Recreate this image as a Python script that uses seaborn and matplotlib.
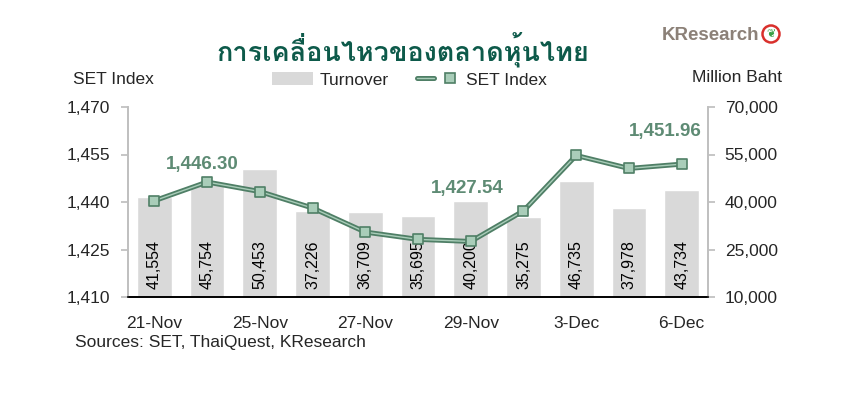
import numpy as np
import pandas as pd
import seaborn as sns
import matplotlib
matplotlib.use("Agg")
import matplotlib.pyplot as plt
from matplotlib import font_manager as fm
from matplotlib.patches import Patch, Circle
from matplotlib.lines import Line2D
from matplotlib.legend_handler import HandlerTuple
import matplotlib.patheffects as pe

# ---------------- data ----------------
dates = ["21-Nov", "22-Nov", "25-Nov", "26-Nov", "27-Nov", "28-Nov",
         "29-Nov", "2-Dec", "3-Dec", "4-Dec", "6-Dec"]
set_index = [1440.4, 1446.30, 1443.3, 1438.1, 1430.5, 1428.2,
             1427.54, 1437.2, 1454.7, 1450.6, 1451.96]
turnover = [41554, 45754, 50453, 37226, 36709, 35695,
            40200, 35275, 46735, 37978, 43734]
shown_labels = ["21-Nov", "25-Nov", "27-Nov", "29-Nov", "3-Dec", "6-Dec"]
left_ticks = [1410, 1425, 1440, 1455, 1470]
right_ticks = [10000, 25000, 40000, 55000, 70000]
highlight = {"22-Nov": "1,446.30", "29-Nov": "1,427.54", "6-Dec": "1,451.96"}
title = "การเคลื่อนไหวของตลาดหุ้นไทย"

df = pd.DataFrame({"date": dates, "set": set_index, "turnover": turnover})
df["pos"] = np.arange(len(df))

sns.set_theme(style="white")
plt.rcParams["font.family"] = ["Liberation Sans", "DejaVu Sans"]


def find_thai_font():
    best = None
    for f in fm.fontManager.ttflist:
        try:
            cmap = fm.get_font(f.fname).get_charmap()
        except Exception:
            continue
        if 0x0E01 in cmap and 0x0E40 in cmap and 0x0E2B in cmap:
            w = f.weight if isinstance(f.weight, int) else 400
            score = (1 if w >= 600 else 0, -abs(w - 700))
            if best is None or score > best[0]:
                best = (score, f)
    return best[1] if best else None


thai = find_thai_font()

fig = plt.figure(figsize=(8.54, 3.97), dpi=100)
ax = fig.add_axes([128 / 854, 1 - 297 / 397, 580 / 854, 190 / 397])
ax2 = ax.twinx()

bar_c = "#d9d9d9"
dark_g = "#4f7f66"
light_g = "#a9cdb9"
lab_g = "#5e8b74"

sns.barplot(data=df, x="pos", y="turnover", ax=ax2, color=bar_c,
            width=0.66, saturation=1, native_scale=True)
ax2.set_ylim(10000, 70000)
ax2.set_yticks(right_ticks)
ax2.set_yticklabels([f"{v:,}" for v in right_ticks])
ax2.set_ylabel("")
ax2.set_xlabel("")

for p, v in zip(df["pos"], df["turnover"]):
    ax2.text(p, 12600, f"{v:,}", rotation=90, ha="center", va="bottom",
             fontsize=11.5, color="black")

ax.set_zorder(ax2.get_zorder() + 1)
ax.patch.set_visible(False)

sns.lineplot(data=df, x="pos", y="set", ax=ax, color=light_g, lw=1.0,
             path_effects=[pe.Stroke(linewidth=3.6, foreground=dark_g), pe.Normal()],
             legend=False)
sns.scatterplot(data=df, x="pos", y="set", ax=ax, marker="s", s=56,
                color=light_g, edgecolor=dark_g, linewidth=1.2, zorder=5,
                legend=False)
ax.set_ylim(1410, 1470)
ax.set_yticks(left_ticks)
ax.set_yticklabels([f"{v:,}" for v in left_ticks])
ax.set_xlim(-0.5, len(dates) - 0.5)
ax.set_xlabel("")
ax.set_ylabel("")

offsets = {"22-Nov": (-5, 18), "29-Nov": (-3, 53), "6-Dec": (-16, 33)}
for d, txt in highlight.items():
    i = dates.index(d)
    ax.annotate(txt, (i, set_index[i]), xytext=offsets[d],
                textcoords="offset pixels", ha="center", va="center",
                fontsize=13.5, fontweight="bold", color=lab_g)

# x ticks
ax.set_xticks([dates.index(d) for d in shown_labels])
ax.set_xticklabels(shown_labels)
ax.set_xticks(np.arange(-0.5, len(dates)), minor=True)
ax.tick_params(axis="x", which="major", length=0, pad=14, labelsize=12.5)
ax.tick_params(axis="x", which="minor", length=6, width=1, color="black",
               direction="out")
ax.tick_params(axis="y", which="major", length=5, color="#bfbfbf",
               labelsize=12.5, pad=8, left=True)
ax2.tick_params(axis="y", which="major", length=5, color="#bfbfbf",
                labelsize=12.5, pad=7, right=True)
ax2.tick_params(axis="x", length=0, labelbottom=False)

for a in (ax, ax2):
    a.spines["top"].set_visible(False)
    a.spines["left"].set_color("#bfbfbf")
    a.spines["right"].set_color("#bfbfbf")
    a.spines["bottom"].set_color("black")
    a.spines["bottom"].set_linewidth(1.2)
    a.grid(False)

# legend
h_bar = Patch(facecolor=bar_c, edgecolor="none")
h_line = Line2D([], [], color=light_g, lw=1.0,
                path_effects=[pe.Stroke(linewidth=3.6, foreground=dark_g), pe.Normal()])
h_mark = Line2D([], [], ls="none", marker="s", markersize=7,
                markerfacecolor=light_g, markeredgecolor=dark_g, markeredgewidth=1.2)
ax.legend([h_bar, (h_line, h_mark)], ["Turnover", "SET Index"],
          handler_map={tuple: HandlerTuple(ndivide=None)},
          loc="center", bbox_to_anchor=(409 / 854, 1 - 80 / 397),
          bbox_transform=fig.transFigure, ncol=2, frameon=False,
          fontsize=12.5, handlelength=2.4, handleheight=0.8,
          columnspacing=1.6, handletextpad=0.4)

# headers
fig.text(73 / 854, 1 - 79 / 397, "SET Index", fontsize=12.5, va="center", ha="left")
fig.text(782 / 854, 1 - 77 / 397, "Million Baht", fontsize=12.5, va="center", ha="right")
fig.text(75 / 854, 1 - 343 / 397, "Sources: SET, ThaiQuest, KResearch",
         fontsize=12.5, va="center", ha="left")

# title
tkw = dict(color="#0d5a4a", ha="center", va="center")
if thai is not None:
    tkw["fontproperties"] = fm.FontProperties(fname=thai.fname, size=19.5, weight="bold")
else:
    tkw.update(fontsize=19.5, fontweight="bold")
fig.text(403 / 854, 1 - 50 / 397, title, **tkw)

# logo
fig.text(662 / 854, 1 - 35 / 397, "KResearch", fontsize=13.5, fontweight="bold",
         color="#8c8178", ha="left", va="center")
lx, ly = 771 / 854, 1 - 34 / 397
fig.patches.append(Circle((771, 397 - 34), 8.5, transform=None, facecolor="white",
                          edgecolor="#d9302c", linewidth=1.8, figure=fig))
fig.text(lx, ly, "❦", fontsize=8, color="#3aa046", ha="center", va="center",
         family=["DejaVu Sans"])

fig.savefig("out.png", dpi=100)
